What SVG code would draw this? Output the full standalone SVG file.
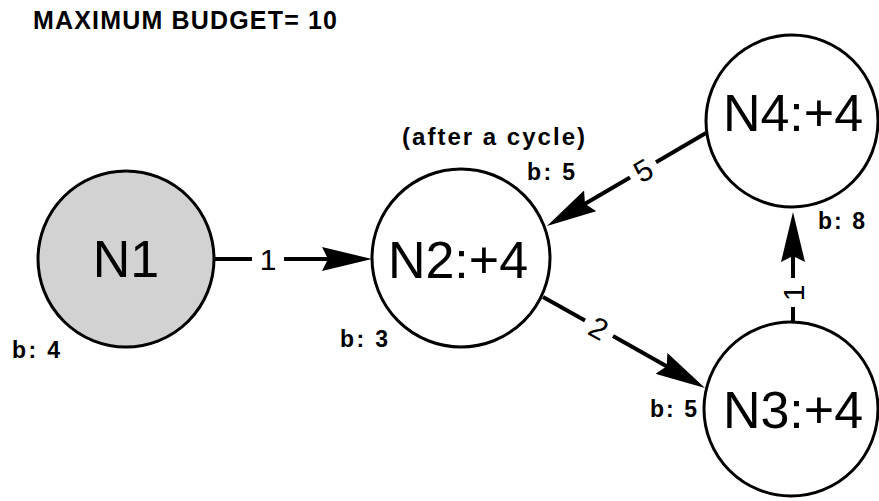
<svg xmlns="http://www.w3.org/2000/svg" width="879" height="501" viewBox="0 0 879 501">
<defs>
<style>
.node{fill:#ffffff;stroke:#000;stroke-width:3}
.gray{fill:#d3d2d2}
.nl{font-family:"Liberation Sans",Arial,sans-serif;font-size:52px;fill:#000;text-anchor:middle}
.el{font-family:"Liberation Sans",Arial,sans-serif;font-size:30px;fill:#000;text-anchor:middle}
.bl{font-family:"Liberation Sans",Arial,sans-serif;font-size:23px;font-weight:bold;fill:#000}
.ti{font-family:"Liberation Sans",Arial,sans-serif;font-size:25px;font-weight:bold;fill:#000}
.edge{stroke:#000;stroke-width:4;fill:none}
</style>
<marker id="ah" markerUnits="userSpaceOnUse" viewBox="0 0 50 24" markerWidth="50" markerHeight="24" refX="40" refY="12" orient="auto">
<path d="M0,0 L50,12 L0,24 L6,12 z" fill="#000"/>
</marker>
</defs>
<rect width="879" height="501" fill="#ffffff"/>
<text class="ti" x="33" y="29" textLength="304" lengthAdjust="spacing">MAXIMUM BUDGET= 10</text>

<g id="connectors">
<g id="e1">
<line class="edge" x1="214" y1="259" x2="252" y2="259"/>
<line class="edge" x1="284" y1="259" x2="362" y2="259" marker-end="url(#ah)"/>
<text class="el" x="268" y="270">1</text>
</g>
<g id="e2">
<line class="edge" x1="543" y1="297" x2="585" y2="320.5"/>
<line class="edge" x1="613" y1="336" x2="696.3" y2="383.1" marker-end="url(#ah)"/>
<text class="el" transform="translate(599,328) rotate(29)" x="0" y="11">2</text>
</g>
<g id="e3">
<line class="edge" x1="706" y1="133" x2="656" y2="162.3"/>
<line class="edge" x1="630" y1="177.5" x2="555.6" y2="221" marker-end="url(#ah)"/>
<text class="el" transform="translate(643,170) rotate(-30)" x="0" y="11">5</text>
</g>
<g id="e4">
<line class="edge" x1="793" y1="323" x2="793" y2="307"/>
<line class="edge" x1="793" y1="278" x2="793" y2="222" marker-end="url(#ah)"/>
<text class="el" transform="translate(793,293) rotate(-90)" x="0" y="11">1</text>
</g>
</g>

<g id="N1">
<circle class="node gray" cx="126" cy="259" r="88"/>
<text class="nl" x="126" y="277">N1</text>
<text class="bl" x="12" y="358" textLength="48" lengthAdjust="spacing">b: 4</text>
</g>
<g id="N2">
<circle class="node" cx="461" cy="258" r="89"/>
<text class="nl" x="458" y="278">N2:+4</text>
<text class="bl" x="340" y="347" textLength="48" lengthAdjust="spacing">b: 3</text>
<text class="bl" x="527" y="180" textLength="48" lengthAdjust="spacing">b: 5</text>
<text class="bl" x="402" y="145" style="font-size:24px" textLength="183" lengthAdjust="spacing">(after a cycle)</text>
</g>
<g id="N3">
<circle class="node" cx="791" cy="409" r="87"/>
<text class="nl" x="793" y="428">N3:+4</text>
<text class="bl" x="650" y="417" textLength="47" lengthAdjust="spacing">b: 5</text>
</g>
<g id="N4">
<circle class="node" cx="792" cy="121" r="86"/>
<text class="nl" x="793" y="131">N4:+4</text>
<text class="bl" x="818" y="229" textLength="47" lengthAdjust="spacing">b: 8</text>
</g>
</svg>
